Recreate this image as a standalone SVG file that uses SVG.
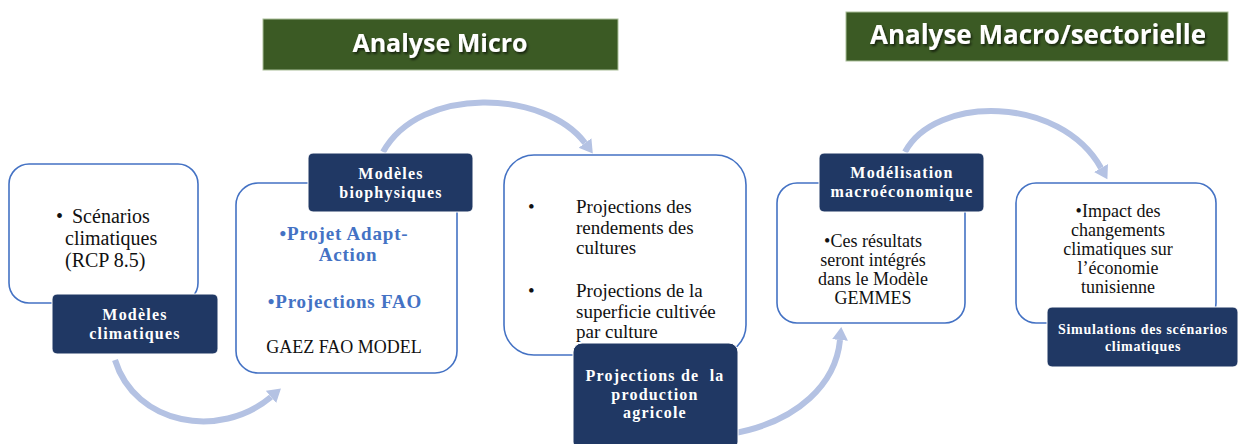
<svg xmlns="http://www.w3.org/2000/svg" width="1239" height="444" viewBox="0 0 1239 444">
<style>
.hdr{fill:#3B5A24;stroke:#A9BE98;stroke-width:1}
.hdrt{font-family:"Open Sans",sans-serif;font-weight:700;font-size:25px;fill:#fff;text-anchor:middle}
.box{fill:#fff;stroke:#4472C4;stroke-width:1.6}
.lab{fill:#203864;stroke:#fff;stroke-width:1}
.labt{font-family:"Liberation Serif","Times New Roman",serif;font-weight:700;font-size:16px;letter-spacing:1.2px;fill:#fff;text-anchor:middle}
.body{font-family:"Liberation Serif","Times New Roman",serif;font-size:19px;fill:#111}
.sm{font-size:18px}
.mid{text-anchor:middle}
.blue{font-family:"Liberation Serif","Times New Roman",serif;font-weight:700;font-size:19px;letter-spacing:0.8px;fill:#4472C4;text-anchor:middle}
.arc{fill:none;stroke:#B4C2E3;stroke-width:6}
</style>
<defs>
<marker id="ah" markerUnits="userSpaceOnUse" markerWidth="14" markerHeight="18" refX="0" refY="9" orient="auto">
<path d="M0,1 L13,9 L0,17 Z" fill="#B4C2E3"/>
</marker>
<filter id="sh" x="-10%" y="-30%" width="120%" height="160%">
<feDropShadow dx="1.5" dy="2" stdDeviation="1.2" flood-color="#000" flood-opacity="0.6"/>
</filter>
</defs>
<rect width="1239" height="444" fill="#fff"/>

<g id="header-micro">
<rect class="hdr" x="263" y="19" width="355" height="51"/>
<text class="hdrt" x="440" y="52" filter="url(#sh)">Analyse Micro</text>
</g>
<g id="header-macro">
<rect class="hdr" x="846" y="12" width="382" height="49"/>
<text class="hdrt" x="1038" y="44" style="font-size:26px" filter="url(#sh)">Analyse Macro/sectorielle</text>
</g>

<g id="connectors">
<path class="arc" d="M115,360 C135,425 220,440 271,397" marker-end="url(#ah)"/>
<path class="arc" d="M383,152 C420,85 545,90 585,143" marker-end="url(#ah)"/>
<path class="arc" d="M730,434 C800,422 836,382 840,340" marker-end="url(#ah)"/>
<path class="arc" d="M905,152 C935,95 1060,95 1101,168" marker-end="url(#ah)"/>
</g>

<g id="node-climat">
<rect class="box" x="9" y="164" width="189" height="139" rx="20"/>
<text class="body" style="font-size:20px"><tspan x="56" y="223">•</tspan><tspan x="72" y="223">Scénarios</tspan><tspan x="65" y="245">climatiques</tspan><tspan x="65" y="267">(RCP 8.5)</tspan></text>
<rect class="lab" x="52" y="294" width="166" height="60" rx="5"/>
<text class="labt"><tspan x="135" y="320">Modèles</tspan><tspan x="135" y="339">climatiques</tspan></text>
</g>

<g id="node-biophys">
<rect class="box" x="236" y="183" width="221" height="190" rx="22"/>
<rect class="lab" x="308" y="153" width="165" height="59" rx="5"/>
<text class="labt"><tspan x="391" y="179">Modèles</tspan><tspan x="391" y="198">biophysiques</tspan></text>
<text class="blue"><tspan x="344" y="240">•Projet Adapt-</tspan><tspan x="348" y="261">Action</tspan><tspan x="345" y="308">•Projections FAO</tspan></text>
<text class="body mid" x="344" y="353" style="font-size:18px">GAEZ FAO MODEL</text>
</g>

<g id="node-projections">
<rect class="box" x="504" y="155" width="242" height="200" rx="30"/>
<text class="body"><tspan x="528" y="213">•</tspan><tspan x="576" y="213">Projections des</tspan><tspan x="576" y="234">rendements des</tspan><tspan x="576" y="254">cultures</tspan><tspan x="528" y="297">•</tspan><tspan x="576" y="297">Projections de la</tspan><tspan x="576" y="318">superficie cultivée</tspan><tspan x="576" y="338">par culture</tspan></text>
<rect class="lab" x="573" y="343" width="165" height="108" rx="9"/>
<text class="labt" xml:space="preserve"><tspan x="655" y="381">Projections de  la</tspan><tspan x="655" y="400">production</tspan><tspan x="655" y="418">agricole</tspan></text>
</g>

<g id="node-macro">
<rect class="box" x="777" y="183" width="188" height="140" rx="20"/>
<rect class="lab" x="819" y="153" width="165" height="59" rx="5"/>
<text class="labt"><tspan x="902" y="178">Modélisation</tspan><tspan x="902" y="197">macroéconomique</tspan></text>
<text class="body sm mid"><tspan x="873" y="247">•Ces résultats</tspan><tspan x="873" y="266">seront intégrés</tspan><tspan x="873" y="285">dans le Modèle</tspan><tspan x="873" y="304">GEMMES</tspan></text>
</g>

<g id="node-impact">
<rect class="box" x="1016" y="183" width="200" height="140" rx="20"/>
<text class="body sm mid"><tspan x="1118" y="217">•Impact des</tspan><tspan x="1118" y="236">changements</tspan><tspan x="1118" y="255">climatiques sur</tspan><tspan x="1118" y="274">l’économie</tspan><tspan x="1118" y="293">tunisienne</tspan></text>
<rect class="lab" x="1047" y="307" width="191" height="60" rx="5"/>
<text class="labt" style="font-size:14px;letter-spacing:0.7px"><tspan x="1143" y="334">Simulations des scénarios</tspan><tspan x="1143" y="351">climatiques</tspan></text>
</g>
</svg>
